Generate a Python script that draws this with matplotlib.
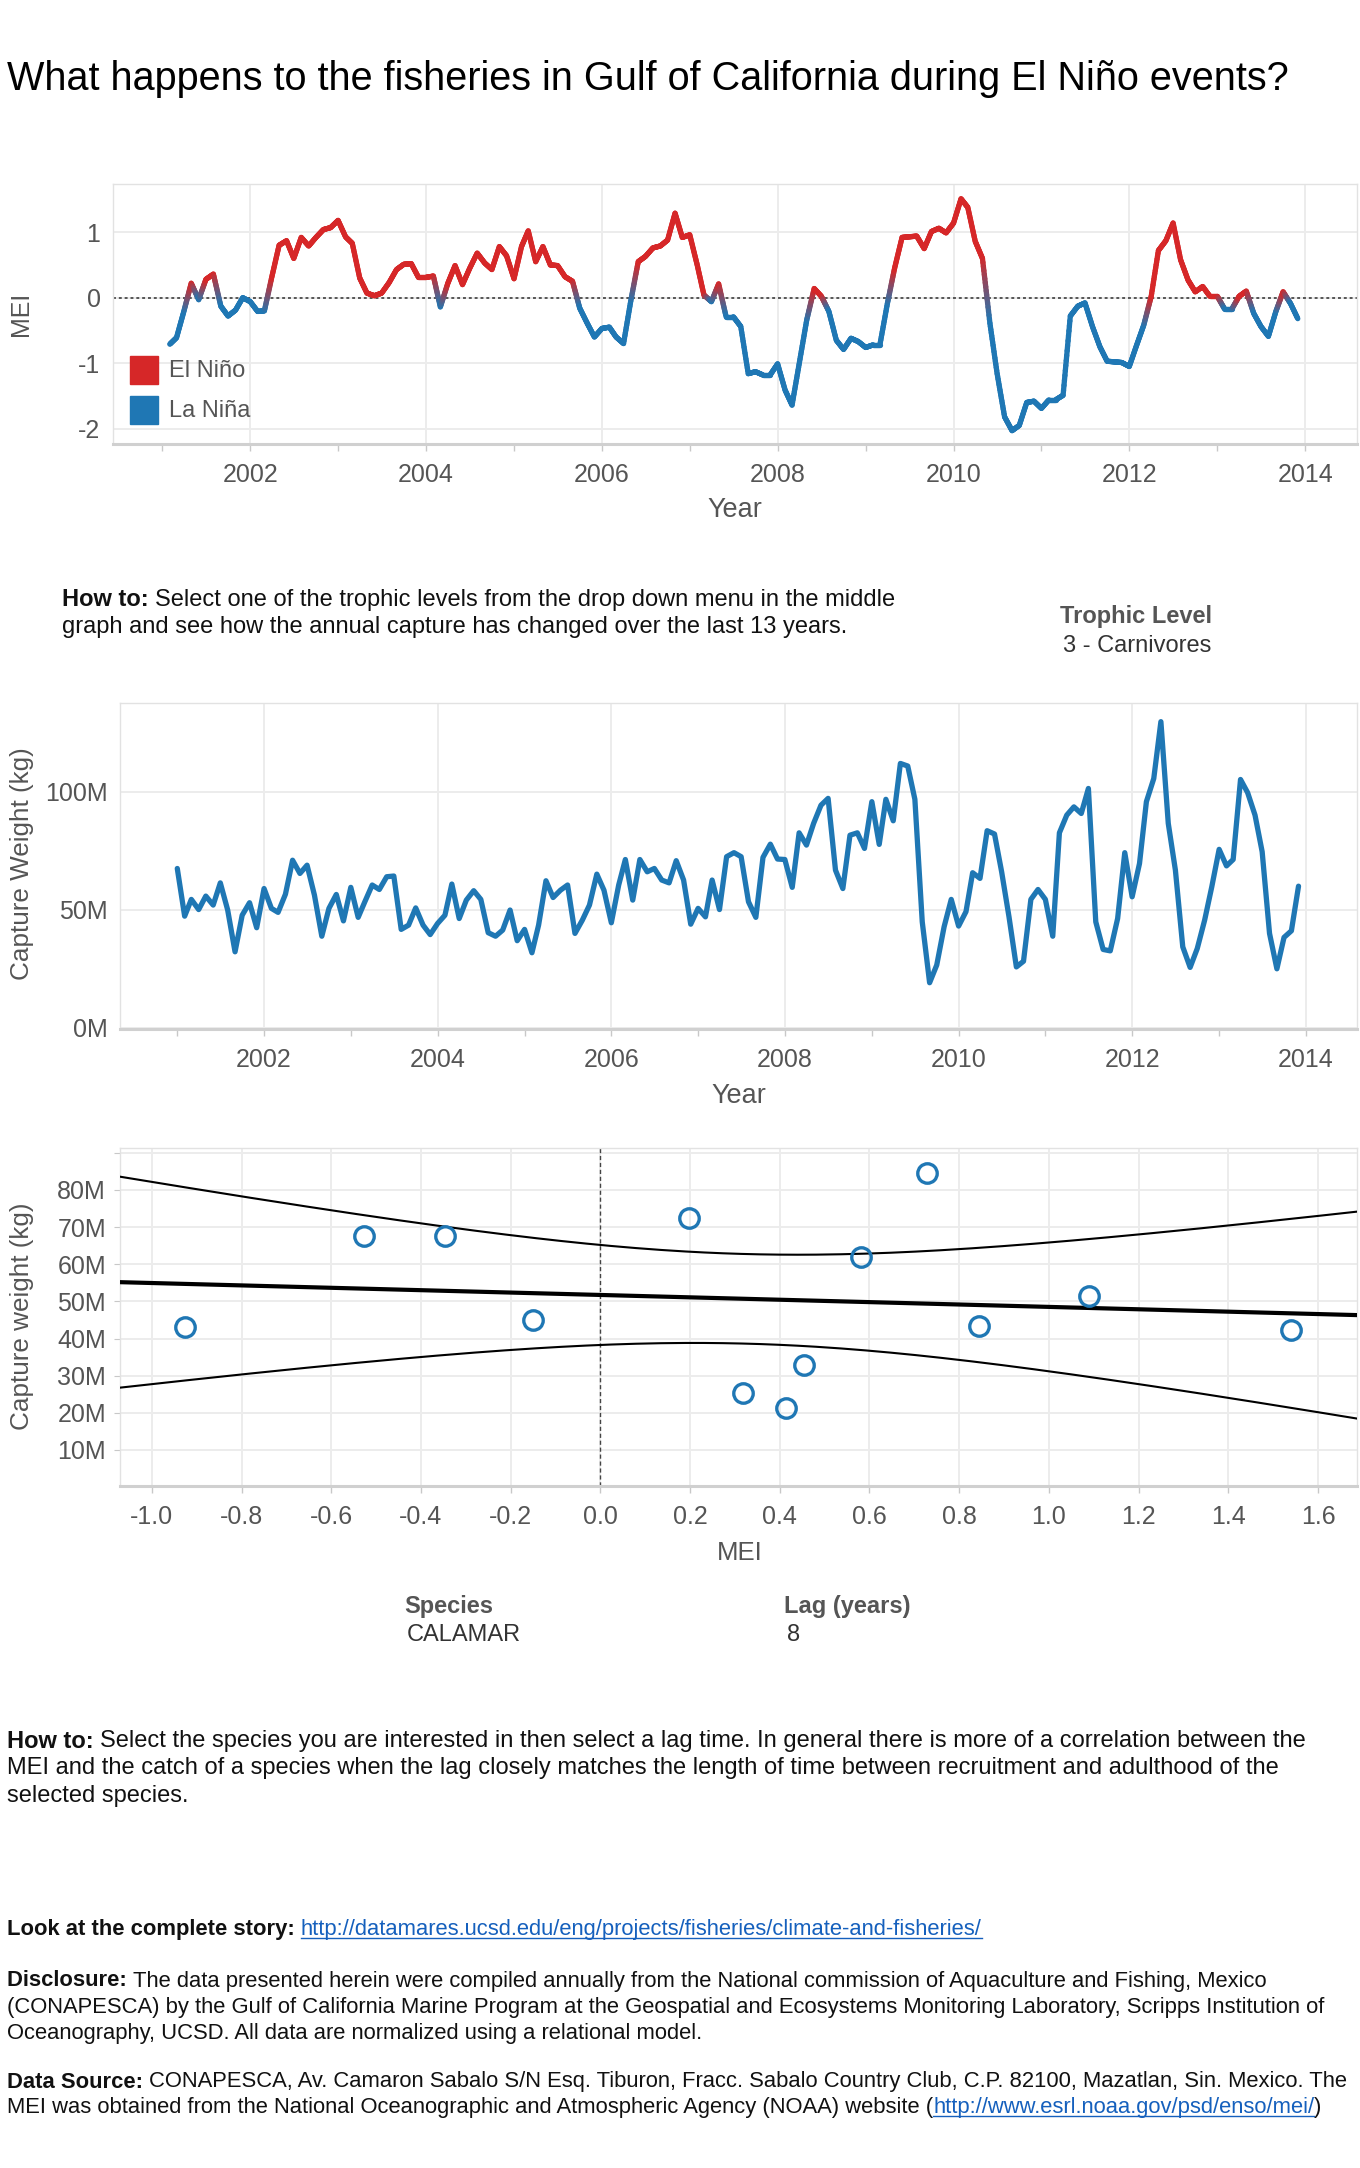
"""Gulf of California fisheries vs El Niño dashboard, redrawn with matplotlib."""

import matplotlib

matplotlib.use("Agg")

import matplotlib.dates as mdates
import matplotlib.pyplot as plt
import numpy as np
import pandas as pd
from matplotlib.collections import LineCollection
from matplotlib.colors import to_rgb
from matplotlib.lines import Line2D
from matplotlib.patches import Rectangle
from matplotlib.ticker import FuncFormatter

# ---- data -------------------------------------------------------------------
mei_dates = pd.date_range("2001-02-01", "2013-12-01", freq="MS")
mei_values = [
    -0.71, -0.61, -0.20, 0.22, -0.03, 0.28, 0.36, -0.13, -0.28, -0.19,
    0.00, -0.06, -0.21, -0.20, 0.32, 0.80, 0.87, 0.60, 0.92, 0.79,
    0.92, 1.04, 1.07, 1.18, 0.93, 0.83, 0.30, 0.07, 0.03, 0.07,
    0.23, 0.43, 0.51, 0.52, 0.31, 0.31, 0.33, -0.14, 0.22, 0.49,
    0.20, 0.45, 0.68, 0.53, 0.43, 0.78, 0.64, 0.29, 0.78, 1.02,
    0.55, 0.78, 0.50, 0.49, 0.32, 0.25, -0.16, -0.39, -0.60, -0.47,
    -0.45, -0.60, -0.70, -0.05, 0.55, 0.63, 0.76, 0.79, 0.88, 1.29,
    0.92, 0.96, 0.50, 0.04, -0.06, 0.21, -0.29, -0.29, -0.44, -1.16,
    -1.13, -1.18, -1.18, -1.01, -1.41, -1.64, -0.98, -0.34, 0.14, 0.02,
    -0.21, -0.65, -0.79, -0.62, -0.67, -0.76, -0.72, -0.72, -0.09, 0.45,
    0.92, 0.93, 0.94, 0.75, 1.01, 1.06, 0.99, 1.14, 1.51, 1.38,
    0.86, 0.60, -0.39, -1.16, -1.82, -2.03, -1.95, -1.60, -1.58, -1.69,
    -1.56, -1.56, -1.49, -0.28, -0.13, -0.08, -0.44, -0.75, -0.97, -0.98,
    -0.99, -1.05, -0.72, -0.42, 0.02, 0.72, 0.87, 1.14, 0.58, 0.27,
    0.09, 0.17, 0.02, 0.02, -0.18, -0.18, 0.02, 0.10, -0.24, -0.44,
    -0.59, -0.21, 0.09, -0.09, -0.32,
]

capture_dates = pd.date_range("2001-01-01", "2013-12-01", freq="MS")
capture_millions = [
    67.5, 47.3, 54.4, 50.1, 55.8, 52.0, 61.4, 49.9, 32.2, 47.7,
    53.0, 42.4, 59.0, 50.6, 48.9, 56.6, 71.0, 65.4, 68.9, 56.2,
    38.8, 50.6, 56.5, 45.3, 59.5, 46.8, 53.4, 60.5, 58.6, 64.0,
    64.3, 41.7, 43.5, 50.8, 43.5, 39.5, 44.2, 47.7, 60.9, 46.3,
    54.1, 58.1, 54.4, 40.3, 38.8, 41.4, 49.9, 36.9, 41.7, 31.8,
    43.5, 62.3, 55.2, 58.3, 60.5, 40.0, 45.6, 52.0, 65.1, 58.3,
    44.5, 60.5, 71.3, 54.1, 71.3, 66.1, 67.5, 62.6, 61.4, 70.8,
    62.6, 43.9, 50.6, 47.0, 62.6, 50.1, 72.5, 74.2, 72.5, 53.4,
    46.8, 72.2, 77.8, 71.5, 71.3, 59.5, 82.6, 77.4, 86.6, 94.3,
    97.2, 66.8, 59.0, 81.6, 82.6, 76.0, 95.8, 77.7, 96.8, 87.7,
    112.0, 110.9, 96.8, 44.9, 19.1, 26.6, 42.8, 54.4, 43.1, 49.2,
    65.7, 63.3, 83.5, 82.1, 66.1, 47.0, 25.8, 28.2, 54.4, 58.6,
    54.4, 38.8, 82.6, 90.1, 93.6, 90.8, 101.4, 44.9, 33.2, 32.6,
    46.3, 74.2, 55.5, 69.6, 95.8, 105.6, 129.7, 86.6, 66.8, 34.3,
    25.6, 33.6, 45.6, 59.7, 75.6, 68.6, 71.3, 105.2, 99.6, 90.1,
    74.6, 40.0, 25.0, 38.3, 41.1, 60.0,
]

lag_mei = [-0.927, -0.527, -0.347, -0.150, 0.198, 0.318, 0.415,
           0.453, 0.581, 0.728, 0.845, 1.089, 1.540]
lag_capture = [43.1, 67.6, 67.6, 45.0, 72.5, 25.3, 21.4,
               32.8, 61.9, 84.5, 43.5, 51.5, 42.3]

legend_labels = ["El Niño", "La Niña"]
mei_ticks = [-2, -1, 0, 1]
capture_ticks = [0, 50, 100]
lag_x_ticks = [-1.0, -0.8, -0.6, -0.4, -0.2, 0.0, 0.2, 0.4, 0.6, 0.8,
               1.0, 1.2, 1.4, 1.6]
lag_y_ticks = [10, 20, 30, 40, 50, 60, 70, 80, 90]
lag_y_labels = ["10M", "20M", "30M", "40M", "50M", "60M", "70M", "80M", ""]

# ---- style ------------------------------------------------------------------
W, H = 1360, 2168
FONT = ["Liberation Sans", "DejaVu Sans"]
RED = "#d62728"
BLUE = "#1f77b4"
GRID = "#ececec"
TICK_TEXT = "#555555"
INK = "#111111"
LINK = "#1560bd"
HOWTO_SIZE = 17
FOOT_SIZE = 15.8
plt.rcParams["font.family"] = FONT

fig = plt.figure(figsize=(W / 100, H / 100), dpi=100)
renderer = fig.canvas.get_renderer()


def fx(x):
    return x / W


def fy(y):
    return 1 - y / H


def box(left, top, right, bottom):
    return [fx(left), fy(bottom), (right - left) / W, (bottom - top) / H]


def style_axes(ax):
    for side in ("left", "top", "right"):
        ax.spines[side].set_color("#e2e2e2")
        ax.spines[side].set_linewidth(1)
    ax.spines["bottom"].set_color("#d0d0d0")
    ax.spines["bottom"].set_linewidth(2.2)
    ax.grid(True, which="major", color=GRID, lw=1.4)
    ax.set_axisbelow(True)
    ax.tick_params(axis="both", which="both", color="#c8c8c8",
                   labelcolor=TICK_TEXT, labelsize=18)
    ax.tick_params(axis="x", which="both", length=5, width=1, pad=9)
    ax.tick_params(axis="y", length=0, pad=9)


def year_axis(ax, left, right):
    ax.set_xlim(mdates.date2num(pd.Timestamp(left)),
                mdates.date2num(pd.Timestamp(right)))
    ax.xaxis.set_major_locator(mdates.YearLocator(2))
    ax.xaxis.set_minor_locator(mdates.YearLocator(1))
    ax.xaxis.set_major_formatter(mdates.DateFormatter("%Y"))


def run_line(x, y, runs, size):
    """Write text pieces one after the other on a line (pixel coordinates)."""
    for text, weight, color, link in runs:
        t = fig.text(fx(x), fy(y), text, fontsize=size, fontweight=weight,
                     color=color, ha="left", va="center")
        bb = t.get_window_extent(renderer)
        if link:
            fig.add_artist(Line2D([bb.x0 / W, bb.x1 / W],
                                  [(bb.y0 + 3) / H] * 2, color=color, lw=1))
        x += bb.width


# ---- title ------------------------------------------------------------------
fig.text(fx(7), fy(79), "What happens to the fisheries in Gulf of California "
         "during El Niño events?", fontsize=28.5, color="#000000",
         va="center")

# ---- MEI chart --------------------------------------------------------------
ax1 = fig.add_axes(box(113, 184, 1357, 444))
style_axes(ax1)
year_axis(ax1, "2000-06-10", "2014-08-04")
ax1.set_ylim(-2.234, 1.736)
ax1.set_yticks(mei_ticks)
ax1.yaxis.set_major_formatter(FuncFormatter(lambda v, _: f"{v:g}"))
ax1.axhline(0, color="#555555", lw=1.4, ls=(0, (1.5, 1.5)), zorder=2)

xs = mdates.date2num(mei_dates)
point_colors = [np.array(to_rgb(RED if v > 0 else BLUE)) for v in mei_values]
segments, colors = [], []
steps = 16
for i in range(len(xs) - 1):
    for j in range(steps):
        t0, t1 = j / steps, (j + 1) / steps
        segments.append([
            (xs[i] + (xs[i + 1] - xs[i]) * t0,
             mei_values[i] + (mei_values[i + 1] - mei_values[i]) * t0),
            (xs[i] + (xs[i + 1] - xs[i]) * t1,
             mei_values[i] + (mei_values[i + 1] - mei_values[i]) * t1),
        ])
        tm = (t0 + t1) / 2
        colors.append(point_colors[i] * (1 - tm) + point_colors[i + 1] * tm)
ax1.add_collection(LineCollection(segments, colors=colors, linewidths=3.8,
                                  capstyle="round", joinstyle="round",
                                  zorder=3))

for label, color, top in zip(legend_labels, [RED, BLUE], [356, 396]):
    fig.add_artist(Rectangle((fx(130), fy(top + 28)), 28 / W, 28 / H,
                             transform=fig.transFigure, color=color))
    fig.text(fx(169), fy(top + 15), label, fontsize=17, color=TICK_TEXT,
             va="center")

fig.text(fx(21), fy(314), "MEI", rotation=90, fontsize=18, color=TICK_TEXT,
         ha="center", va="center")
fig.text(fx(735), fy(510), "Year", fontsize=19.5, color=TICK_TEXT,
         ha="center", va="center")

# ---- how-to (trophic level) -------------------------------------------------
run_line(62, 600, [("How to: ", "bold", INK, False),
                   ("Select one of the trophic levels from the drop down menu "
                    "in the middle", "normal", INK, False)], HOWTO_SIZE)
run_line(62, 627, [("graph and see how the annual capture has changed over "
                    "the last 13 years.", "normal", INK, False)], HOWTO_SIZE)
fig.text(fx(1060), fy(617), "Trophic Level", fontsize=HOWTO_SIZE,
         fontweight="bold", color="#555555", va="center")
fig.text(fx(1063), fy(646), "3 - Carnivores", fontsize=HOWTO_SIZE,
         color="#333333", va="center")

# ---- capture chart ----------------------------------------------------------
ax2 = fig.add_axes(box(120, 703, 1357, 1029))
style_axes(ax2)
ax2.plot(capture_dates, capture_millions, color=BLUE, lw=3.8,
         solid_joinstyle="round", solid_capstyle="round", zorder=3)
year_axis(ax2, "2000-05-05", "2014-08-04")
ax2.set_ylim(-0.5, 137.6)
ax2.set_yticks(capture_ticks)
ax2.yaxis.set_major_formatter(FuncFormatter(lambda v, _: f"{v:.0f}M"))

fig.text(fx(22), fy(864), "Capture Weight (kg)", rotation=90, fontsize=18.8,
         color=TICK_TEXT, ha="center", va="center")
fig.text(fx(739), fy(1096), "Year", fontsize=19.5, color=TICK_TEXT,
         ha="center", va="center")

# ---- lag scatter ------------------------------------------------------------
ax3 = fig.add_axes(box(120, 1148, 1357, 1486))
style_axes(ax3)
ax3.tick_params(axis="y", length=4, pad=6)
ax3.set_xlim(-1.071, 1.687)
ax3.set_ylim(0.3, 91.3)
ax3.set_xticks(lag_x_ticks)
ax3.xaxis.set_major_formatter(FuncFormatter(lambda v, _: f"{v + 0.0:.1f}"))
ax3.set_yticks(lag_y_ticks)
ax3.set_yticklabels(lag_y_labels)
ax3.axvline(0, color="#444444", lw=1, ls=(0, (3, 2)), zorder=2)

lx = np.array(lag_mei)
ly = np.array(lag_capture)
slope, intercept = np.polyfit(lx, ly, 1)
resid = ly - (slope * lx + intercept)
n = len(lx)
s_err = np.sqrt(np.sum(resid ** 2) / (n - 2))
t_crit = 2.201  # 95% two-sided, 11 degrees of freedom
grid_x = np.linspace(-1.071, 1.687, 200)
fit = slope * grid_x + intercept
half = t_crit * s_err * np.sqrt(1 / n + (grid_x - lx.mean()) ** 2
                                / np.sum((lx - lx.mean()) ** 2))
ax3.plot(grid_x, fit, color="black", lw=3, zorder=3)
ax3.plot(grid_x, fit + half, color="black", lw=1.5, zorder=3)
ax3.plot(grid_x, fit - half, color="black", lw=1.5, zorder=3)
ax3.plot(lx, ly, ls="none", marker="o", ms=14, mfc="none", mec=BLUE,
         mew=2.4, zorder=4)

fig.text(fx(22), fy(1316), "Capture weight (kg)", rotation=90, fontsize=18.8,
         color=TICK_TEXT, ha="center", va="center")
fig.text(fx(740), fy(1553), "MEI", fontsize=18.5, color=TICK_TEXT,
         ha="center", va="center")

# ---- filters ----------------------------------------------------------------
fig.text(fx(404), fy(1607), "Species", fontsize=HOWTO_SIZE, fontweight="bold",
         color="#555555", va="center")
fig.text(fx(407), fy(1635), "CALAMAR", fontsize=HOWTO_SIZE, color="#333333",
         va="center")
fig.text(fx(784), fy(1607), "Lag (years)", fontsize=HOWTO_SIZE,
         fontweight="bold", color="#555555", va="center")
fig.text(fx(787), fy(1635), "8", fontsize=HOWTO_SIZE, color="#333333",
         va="center")

# ---- footer text ------------------------------------------------------------
run_line(7, 1741, [("How to: ", "bold", INK, False),
                   ("Select the species you are interested in then select a "
                    "lag time. In general there is more of a correlation "
                    "between the", "normal", INK, False)], HOWTO_SIZE)
run_line(7, 1768, [("MEI and the catch of a species when the lag closely "
                    "matches the length of time between recruitment and "
                    "adulthood of the", "normal", INK, False)], HOWTO_SIZE)
run_line(7, 1796, [("selected species.", "normal", INK, False)], HOWTO_SIZE)

run_line(7, 1930, [("Look at the complete story: ", "bold", INK, False),
                   ("http://datamares.ucsd.edu/eng/projects/fisheries/"
                    "climate-and-fisheries/", "normal", LINK, True)],
         FOOT_SIZE)

run_line(7, 1981, [("Disclosure: ", "bold", INK, False),
                   ("The data presented herein were compiled annually from "
                    "the National commission of Aquaculture and Fishing, "
                    "Mexico", "normal", INK, False)], FOOT_SIZE)
run_line(7, 2007, [("(CONAPESCA) by the Gulf of California Marine Program at "
                    "the Geospatial and Ecosystems Monitoring Laboratory, "
                    "Scripps Institution of", "normal", INK, False)],
         FOOT_SIZE)
run_line(7, 2033, [("Oceanography, UCSD. All data are normalized using a "
                    "relational model.", "normal", INK, False)], FOOT_SIZE)

run_line(7, 2082, [("Data Source: ", "bold", INK, False),
                   ("CONAPESCA, Av. Camaron Sabalo S/N Esq. Tiburon, Fracc. "
                    "Sabalo Country Club, C.P. 82100, Mazatlan, Sin. Mexico. "
                    "The", "normal", INK, False)], FOOT_SIZE)
run_line(7, 2108, [("MEI was obtained from the National Oceanographic and "
                    "Atmospheric Agency (NOAA) website (", "normal", INK,
                    False),
                   ("http://www.esrl.noaa.gov/psd/enso/mei/", "normal", LINK,
                    True),
                   (")", "normal", INK, False)], FOOT_SIZE)

fig.savefig("out.png", dpi=100, facecolor="white")
